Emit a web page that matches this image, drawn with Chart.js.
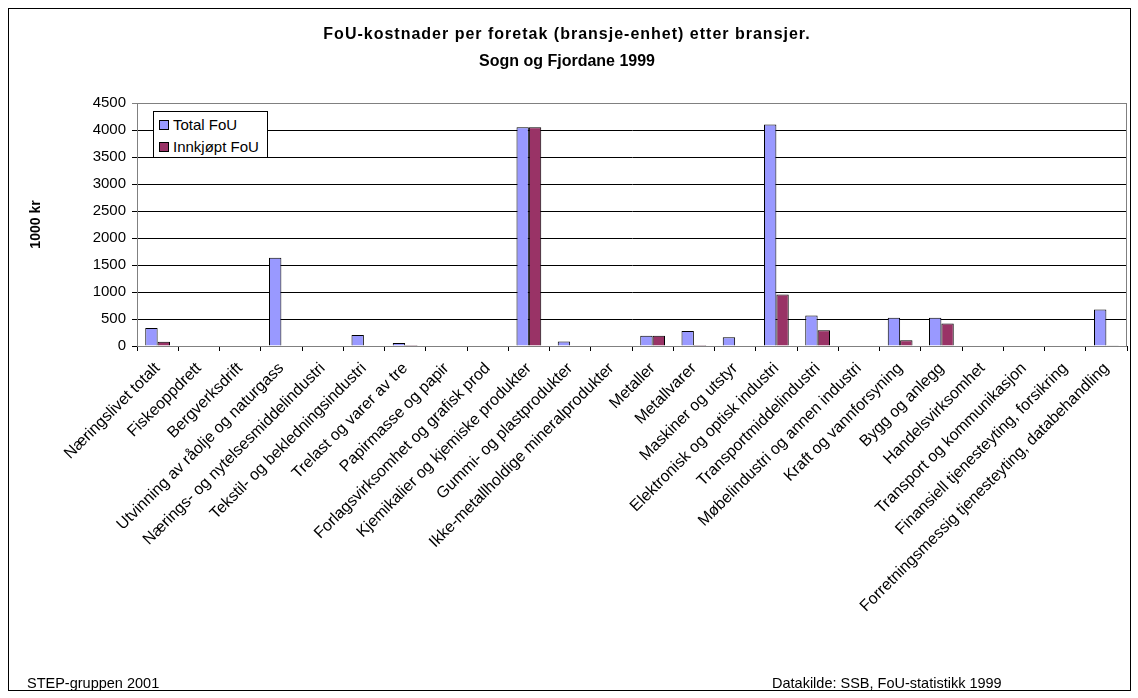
<!DOCTYPE html>
<html>
<head>
<meta charset="utf-8">
<script src="https://cdn.jsdelivr.net/npm/chart.js@4/dist/chart.umd.min.js"></script>
<style>
  body { margin: 0; background: #fff; font-family: Arial, "Liberation Sans", sans-serif; }
  #wrap { position: relative; width: 1138px; height: 698px; }
  #frame { position: absolute; left: 8px; top: 8px; width: 1121px; height: 681px; border: 1px solid #000; }
  #chart { position: absolute; left: 0; top: 0; }
  .title { position: absolute; left: 0; width: 1134px; text-align: center; font-weight: bold; font-size: 16px; }
  .foot { position: absolute; top: 675px; font-size: 14.5px; }
  #legend { position: absolute; left: 153px; top: 111px; width: 113px; height: 45px; border: 1px solid #000; background: #fff; font-size: 15px; }
  #legend div { position: absolute; left: 5px; height: 18px; line-height: 18px; white-space: nowrap; }
  #legend span { display: inline-block; width: 8px; height: 8px; border: 1px solid #000; margin-right: 4px; vertical-align: 0px; }
</style>
</head>
<body>
<div id="wrap">
  <div id="frame"></div>
  <canvas id="chart" width="1138" height="698"></canvas>
  <div class="title" style="top:25px; letter-spacing:1px">FoU-kostnader per foretak (bransje-enhet) etter bransjer.</div>
  <div class="title" style="top:52px">Sogn og Fjordane 1999</div>
  <div class="foot" style="left:27px">STEP-gruppen 2001</div>
  <div class="foot" style="left:772px">Datakilde: SSB, FoU-statistikk 1999</div>
  <div id="legend">
    <div style="top:4px"><span style="background:#9999FF"></span>Total FoU</div>
    <div style="top:26px"><span style="background:#993366"></span>Innkjøpt FoU</div>
  </div>
</div>
<script>
// Bransjer (kategorier)
const bransjer = [
  'Næringslivet totalt', 'Fiskeoppdrett', 'Bergverksdrift',
  'Utvinning av råolje og naturgass', 'Nærings- og nytelsesmiddelindustri',
  'Tekstil- og bekledningsindustri', 'Trelast og varer av tre', 'Papirmasse og papir',
  'Forlagsvirksomhet og grafisk prod', 'Kjemikalier og kjemiske produkter',
  'Gummi- og plastprodukter', 'Ikke-metallholdige mineralprodukter', 'Metaller',
  'Metallvarer', 'Maskiner og utstyr', 'Elektronisk og optisk industri',
  'Transportmiddelindustri', 'Møbelindustri og annen industri', 'Kraft og vannforsyning',
  'Bygg og anlegg', 'Handelsvirksomhet', 'Transport og kommunikasjon',
  'Finansiell tjenesteyting, forsikring', 'Forretningsmessig tjenesteyting, databehandling'
];

// 1000 kr per foretak
const totalFoU = [335, 0, 0, 1635, 0, 205, 55, 0, 0, 4050, 85, 0, 190, 280, 160, 4100, 565, 0, 525, 525, 0, 0, 0, 675];
const innkjoptFoU = [80, 0, 0, 0, 0, 0, 20, 0, 0, 4050, 0, 0, 190, 20, 0, 955, 290, 0, 105, 415, 0, 0, 0, 6];

const yTicks = { min: 0, max: 4500, step: 500 };

// grå ramme rundt plottområdet
const plotBorder = {
  id: 'plotBorder',
  beforeDatasetsDraw(chart) {
    const a = chart.chartArea, c = chart.ctx;
    c.save();
    c.strokeStyle = '#808080';
    c.lineWidth = 1;
    c.strokeRect(a.left + 0.5, a.top + 0.5, a.right - a.left - 1, a.bottom - a.top);
    c.restore();
  }
};

new Chart(document.getElementById('chart'), {
  type: 'bar',
  data: {
    labels: bransjer,
    datasets: [
      {
        label: 'Total FoU',
        data: totalFoU,
        backgroundColor: '#9999FF',
        borderColor: '#000',
        borderWidth: 1,
        borderSkipped: 'bottom'
      },
      {
        label: 'Innkjøpt FoU',
        data: innkjoptFoU,
        backgroundColor: '#993366',
        borderColor: '#000',
        borderWidth: 1,
        borderSkipped: 'bottom'
      }
    ]
  },
  plugins: [plotBorder],
  options: {
    responsive: false,
    animation: false,
    layout: { padding: { left: 0, right: 11, top: 103, bottom: 0 } },
    datasets: { bar: { categoryPercentage: 0.6, barPercentage: 1.0 } },
    plugins: {
      legend: { display: false },
      tooltip: { enabled: false }
    },
    scales: {
      x: {
        grid: { display: true, drawOnChartArea: false, color: '#000', tickLength: 5, offset: true },
        border: { color: '#000' },
        ticks: {
          autoSkip: false, minRotation: 45, maxRotation: 45, padding: 8,
          color: '#000', font: { family: 'Arial', size: 16 }
        },
        afterFit(scale) { scale.height = 352; }
      },
      y: {
        min: yTicks.min,
        max: yTicks.max,
        grid: {
          color: ctx => (ctx.tick && ctx.tick.value === yTicks.max) ? '#808080' : '#000',
          tickLength: 5
        },
        border: { color: '#000' },
        ticks: {
          stepSize: yTicks.step, padding: 6,
          color: '#000', font: { family: 'Arial', size: 15 },
          callback: v => String(v)
        },
        title: {
          display: true, text: '1000 kr', color: '#000',
          font: { family: 'Arial', size: 14, weight: 'bold' },
          padding: { top: 28, bottom: 0 }
        },
        afterFit(scale) { scale.width = 137; }
      }
    }
  }
});
</script>
</body>
</html>
